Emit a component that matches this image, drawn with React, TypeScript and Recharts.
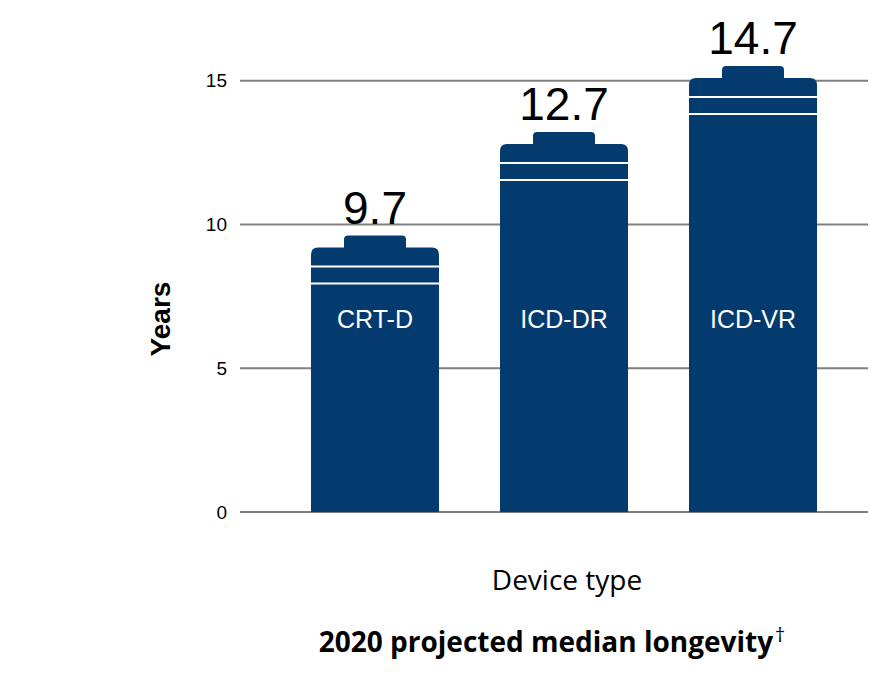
import { Bar, BarChart, CartesianGrid, LabelList, XAxis, YAxis } from "recharts";

// device categories and their projected median longevity (years)
const devices = ["CRT-D", "ICD-DR", "ICD-VR"];
const longevity = [9.7, 12.7, 14.7];
// height of the battery body as drawn in the graphic
const bodyHeight = [9.2, 12.8, 15.1];
const yTicks = [0, 5, 10, 15];

const data = devices.map((name, i) => ({
  name,
  body: bodyHeight[i],
  label: longevity[i],
}));

const NAVY = "#033b6f";
const FONT = "'Liberation Sans', Arial, sans-serif";
const TITLE_FONT = "'Open Sans', 'Noto Sans', sans-serif";

function Battery(props: any) {
  const { x, y, width, height, payload } = props;
  const r = 7;
  const nubW = 62;
  const nubH = 12;
  const nx = x + (width - nubW) / 2;
  const bottom = y + height;
  const body = `M${x},${bottom} L${x},${y + r} Q${x},${y} ${x + r},${y} L${x + width - r},${y} Q${x + width},${y} ${x + width},${y + r} L${x + width},${bottom} Z`;
  const nub = `M${nx},${y + 1} L${nx},${y - nubH + 4} Q${nx},${y - nubH} ${nx + 4},${y - nubH} L${nx + nubW - 4},${y - nubH} Q${nx + nubW},${y - nubH} ${nx + nubW},${y - nubH + 4} L${nx + nubW},${y + 1} Z`;
  return (
    <g>
      <path d={nub} fill={NAVY} />
      <path d={body} fill={NAVY} />
      <line x1={x} x2={x + width} y1={y + 19} y2={y + 19} stroke="#fff" strokeWidth={2} />
      <line x1={x} x2={x + width} y1={y + 36} y2={y + 36} stroke="#fff" strokeWidth={2} />
      <text
        x={x + width / 2}
        y={bottom - 184}
        textAnchor="middle"
        fill="#fff"
        fontSize={25}
        fontFamily={FONT}
      >
        {payload.name}
      </text>
    </g>
  );
}

export default function App() {
  return (
    <div style={{ position: "absolute", left: 0, top: 0, width: 876, height: 676, background: "#fff" }}>
      <BarChart
        width={876}
        height={676}
        data={data}
        margin={{ top: 52, right: 8, bottom: 0, left: 0 }}
      >
        <CartesianGrid
          vertical={false}
          horizontalValues={yTicks}
          stroke="#808080"
          strokeWidth={2}
        />
        <XAxis
          dataKey="name"
          tick={false}
          axisLine={false}
          tickLine={false}
          height={164}
          padding={{ left: 40, right: 21 }}
        />
        <YAxis
          width={240}
          domain={[0, 16]}
          ticks={yTicks}
          axisLine={false}
          tickLine={false}
          tickSize={0}
          tickMargin={13}
          tick={{ fill: "#000", fontSize: 19, fontFamily: FONT }}
          label={{
            content: () => (
              <text
                x={170}
                y={319}
                transform="rotate(-90 170 319)"
                textAnchor="middle"
                fontSize={28}
                fontWeight="bold"
                fontFamily={FONT}
                fill="#000"
              >
                Years
              </text>
            ),
          }}
        />
        <Bar dataKey="body" barSize={128} fill={NAVY} shape={<Battery />} isAnimationActive={false}>
          <LabelList
            dataKey="label"
            position="top"
            offset={24}
            fill="#000"
            fontSize={46}
            fontFamily={FONT}
          />
        </Bar>
      </BarChart>
      <div
        style={{
          position: "absolute",
          left: 0,
          width: 1134,
          top: 561,
          textAlign: "center",
          fontFamily: TITLE_FONT,
          fontSize: 28,
          lineHeight: "36px",
          color: "#000",
        }}
      >
        Device type
      </div>
      <div
        style={{
          position: "absolute",
          left: 0,
          width: 1104,
          top: 616,
          textAlign: "center",
          fontFamily: TITLE_FONT,
          fontSize: 28,
          fontWeight: 700,
          lineHeight: "38px",
          color: "#000",
        }}
      >
        2020 projected median longevity
        <sup style={{ fontSize: 20, fontWeight: 400, marginLeft: 2 }}>†</sup>
      </div>
    </div>
  );
}
